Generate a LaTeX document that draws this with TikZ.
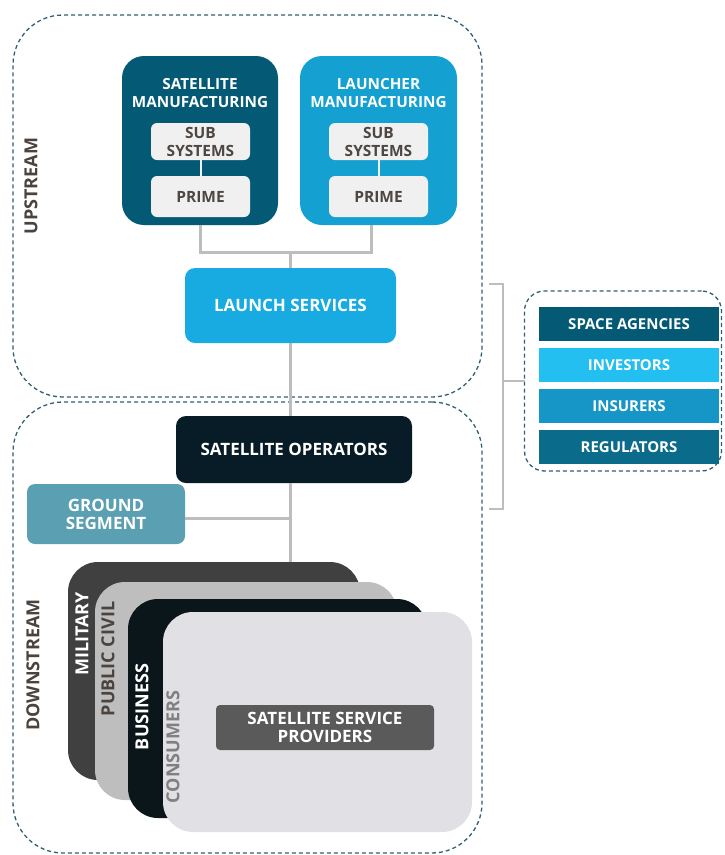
\documentclass[tikz,border=0pt]{standalone}
\usepackage{fontspec}
\setmainfont{Open Sans}
\usepackage{tikz}
\usetikzlibrary{positioning}
\definecolor{deepteal}{HTML}{045A74}
\definecolor{launchblue}{HTML}{14A0D0}
\definecolor{serviceblue}{HTML}{17ABE2}
\definecolor{opsblack}{HTML}{071C26}
\definecolor{groundteal}{HTML}{5B9FB2}
\definecolor{paleboxes}{HTML}{F0F0F0}
\definecolor{subtext}{HTML}{4D4642}
\definecolor{linkgray}{HTML}{BDBDBD}
\definecolor{zoneline}{HTML}{2F6072}
\definecolor{milgray}{HTML}{404040}
\definecolor{civilgray}{HTML}{BEBEBE}
\definecolor{bizblack}{HTML}{0B161B}
\definecolor{consgray}{HTML}{E1E1E5}
\definecolor{sspgray}{HTML}{5A5A5A}
\definecolor{investblue}{HTML}{22BFF0}
\definecolor{insureblue}{HTML}{1596C6}
\definecolor{regblue}{HTML}{0B6B8B}
\definecolor{sidelabel}{HTML}{4A433E}

\begin{document}
\begin{tikzpicture}[
			x=1pt,y=-1pt,
			every node/.style={font=\fontsize{17}{18}\selectfont\bfseries,align=center,inner sep=0pt,outer sep=0pt},
			zone/.style={draw=zoneline,dash pattern=on 4pt off 3pt,line width=1.3pt,rounded corners=50pt},
			tile/.style={rounded corners=#1,text=white},
			tile/.default=10pt,
			title/.style={text=white,font=\fontsize{15.3}{18}\selectfont\bfseries},
			pale/.style={fill=paleboxes,rounded corners=6pt,text=subtext,minimum width=99pt,font=\fontsize{15.5}{18}\selectfont\bfseries},
			card/.style={rounded corners=30pt},
			stake/.style={text=white,minimum width=180pt,minimum height=34pt,font=\fontsize{15}{18}\selectfont\bfseries},
			conn/.style={draw=linkgray,line width=3pt},
			tag/.style={rotate=90,font=\fontsize{18}{18}\selectfont\bfseries}
			]
			\useasboundingbox (0,0) rectangle (724,855);
			% zones
			\node[zone,minimum width=469pt,minimum height=382pt] (up) at (247.5,206) {};
			\node[zone,minimum width=469pt,minimum height=451pt] (down) at (247.5,627.5) {};
			\node[tag,text=sidelabel] (upl) at (31,186) {UPSTREAM};
			\node[tag,text=sidelabel] (downl) at (33,665) {DOWNSTREAM};
			% upstream
			\node[tile=22pt,fill=deepteal,minimum width=156pt,minimum height=169pt] (satm) at (200,140.5) {};
			\node[tile=22pt,fill=launchblue,minimum width=157pt,minimum height=169pt] (lnm) at (378.5,140.5) {};
			\node[title] (satt) at (200,93) {SATELLITE\\MANUFACTURING};
			\node[title] (lnt) at (378.5,93) {LAUNCHER\\MANUFACTURING};
			\node[pale,minimum height=37pt] (sats) at (200.5,141.5) {SUB\\SYSTEMS};
			\node[pale,minimum height=41pt] (satp) at (200.5,196.5) {PRIME};
			\node[pale,minimum height=37pt] (lns) at (378.5,141.5) {SUB\\SYSTEMS};
			\node[pale,minimum height=41pt] (lnp) at (378.5,196.5) {PRIME};
			\draw[draw=paleboxes,line width=2pt] (sats) -- (satp);
			\draw[draw=paleboxes,line width=2pt] (lns) -- (lnp);
			\node[tile,fill=serviceblue,minimum width=211pt,minimum height=75pt] (ls) at (290.5,305.5) {LAUNCH SERVICES};
			\coordinate (jn) at (290.5,252);
			\draw[conn] (satm.south) |- (jn) -| ([xshift=-7pt]lnm.south);
			\draw[conn] (jn) -- (ls.north);
			% downstream
			\node[tile,fill=opsblack,minimum width=236pt,minimum height=67pt] (so) at (294,449.5) {SATELLITE OPERATORS};
			\node[tile=8pt,fill=groundteal,minimum width=158pt,minimum height=60pt] (gs) at (106,514) {GROUND\\SEGMENT};
			\draw[conn] (ls.south) -- (ls.south |- so.north);
			\draw[conn] (ls.south |- so.south) -- (ls.south |- 0,562);
			\draw[conn] ([yshift=-4pt]gs.east) -- ([yshift=-4pt]gs.east -| ls.south);
			\node[card,fill=milgray,minimum width=292pt,minimum height=218pt] (mil) at (214,671) {};
			\node[card,fill=civilgray,minimum width=302pt,minimum height=218pt] (civ) at (246,691) {};
			\node[card,fill=bizblack,minimum width=299pt,minimum height=219pt] (biz) at (277.5,708.5) {};
			\node[card,fill=consgray,minimum width=309pt,minimum height=220pt] (cons) at (317.5,722) {};
			\node[tag,text=white] (mill) at (82,634) {MILITARY};
			\node[tag,text=sidelabel] (civl) at (108,659) {PUBLIC CIVIL};
			\node[tag,text=white] (bizl) at (142,707) {BUSINESS};
			\node[tag,text=gray] (consl) at (173,747) {CONSUMERS};
			\node[tile=4pt,fill=sspgray,minimum width=218pt,minimum height=45pt] (ssp) at (325,727.5) {SATELLITE SERVICE\\PROVIDERS};
			% stakeholders
			\node[zone,rounded corners=20pt,minimum width=197pt,minimum height=180pt] (sh) at (623,381) {};
			\node[stake,fill=deepteal] (sa) at (629,324) {SPACE AGENCIES};
			\node[stake,fill=investblue,below=7pt of sa] (inv) {INVESTORS};
			\node[stake,fill=insureblue,below=7pt of inv] (ins) {INSURERS};
			\node[stake,fill=regblue,below=7pt of ins] (reg) {REGULATORS};
			\draw[conn,line width=2.5pt] (489,284) -- (503,284) -- (503,509) -- (489,509);
			\draw[conn,line width=2.5pt] (503,381) -- (sh.west);
		\end{tikzpicture}
\end{document}
